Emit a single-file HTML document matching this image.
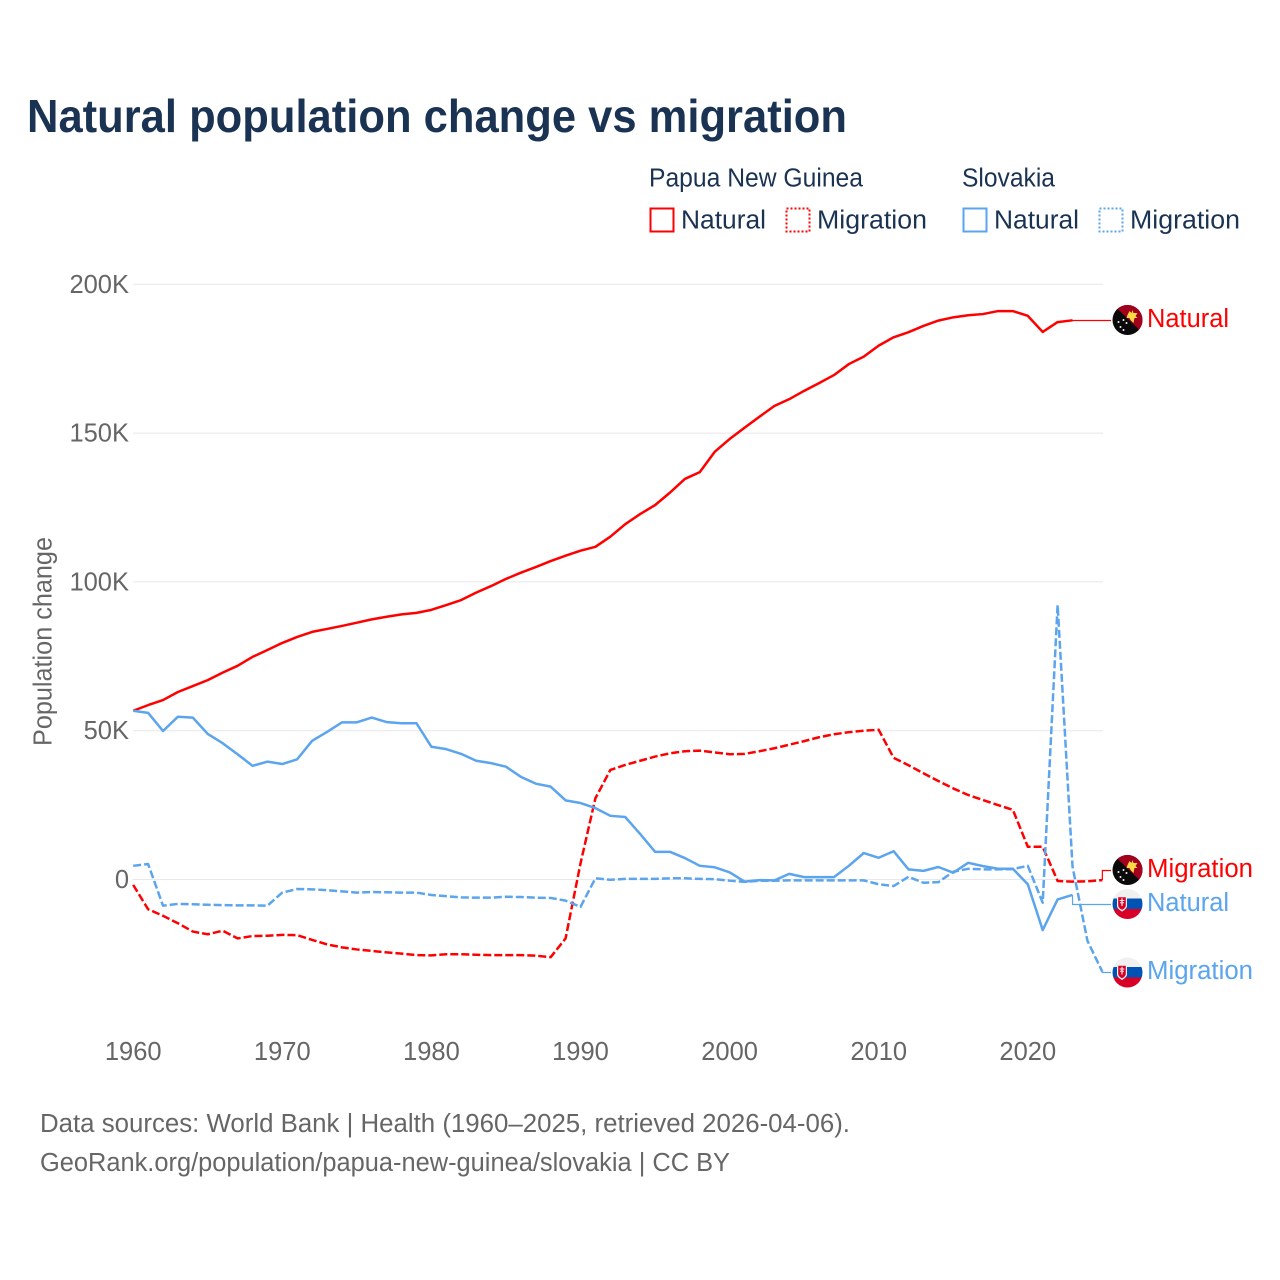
<!DOCTYPE html>
<html lang="en">
<head>
<meta charset="utf-8">
<title>Natural population change vs migration</title>
<style>
  html, body { margin: 0; padding: 0; background: #fff; }
  svg { display: block; font-family: "Liberation Sans", Arial, sans-serif; }
</style>
</head>
<body>
<svg id="chart" xmlns="http://www.w3.org/2000/svg" width="1280" height="1280" viewBox="0 0 1280 1280">
  <defs>
    <clipPath id="flag-clip"><circle cx="0" cy="0" r="15"></circle></clipPath>
  </defs>
  <rect x="0" y="0" width="1280" height="1280" fill="#ffffff"></rect>

  <text x="27" y="132" font-size="46.5" font-weight="700" fill="#1a3353" textLength="820" lengthAdjust="spacingAndGlyphs">Natural population change vs migration</text>

  <g>
    <text x="649" y="186.5" font-size="25.5" fill="#1a3353" textLength="214" lengthAdjust="spacingAndGlyphs">Papua New Guinea</text>
    <text x="962" y="186.5" font-size="25.5" fill="#1a3353" textLength="93" lengthAdjust="spacingAndGlyphs">Slovakia</text>

    <rect x="650.5" y="208.5" width="23" height="23" fill="none" stroke="#ff0000" stroke-width="2"></rect>
    <text x="681" y="228.5" font-size="25.5" fill="#1a3353" textLength="85" lengthAdjust="spacingAndGlyphs">Natural</text>
    <rect x="786.5" y="208.5" width="23" height="23" fill="none" stroke="#ff0000" stroke-width="2" stroke-dasharray="2 2"></rect>
    <text x="817" y="228.5" font-size="25.5" fill="#1a3353" textLength="110" lengthAdjust="spacingAndGlyphs">Migration</text>

    <rect x="963.5" y="208.5" width="23" height="23" fill="none" stroke="#5ba4ee" stroke-width="2"></rect>
    <text x="994" y="228.5" font-size="25.5" fill="#1a3353" textLength="85" lengthAdjust="spacingAndGlyphs">Natural</text>
    <rect x="1099.5" y="208.5" width="23" height="23" fill="none" stroke="#5ba4ee" stroke-width="2" stroke-dasharray="2 2"></rect>
    <text x="1130" y="228.5" font-size="25.5" fill="#1a3353" textLength="110" lengthAdjust="spacingAndGlyphs">Migration</text>
  </g>

  <g id="grid"></g>
  <g id="y-axis"></g>
  <g id="x-axis"></g>
  <text transform="translate(51.5,641.5) rotate(-90)" text-anchor="middle" font-size="25.5" fill="#666666" textLength="209" lengthAdjust="spacingAndGlyphs">Population change</text>

  <g id="series"></g>
  <g id="connectors"></g>

  <g transform="translate(1127.5,320)">
    <g clip-path="url(#flag-clip)">
      <rect x="-16" y="-16" width="32" height="32" fill="#0a0a0a"></rect>
      <polygon points="-15,-16 16,-16 16,14" fill="#a2001d"></polygon>
      <polygon points="0,-5 2,-9 4,-7 5,-10 6,-7 10,-7 8,-4 10,-2 7,-2 6,3 3,0 2,-2 -1,-2" fill="#ffda44"></polygon>
      <circle cx="-9" cy="2" r="1" fill="#f0f0f0"></circle>
      <circle cx="-4" cy="0" r="1" fill="#f0f0f0"></circle>
      <circle cx="-1" cy="3" r="1" fill="#f0f0f0"></circle>
      <circle cx="-7" cy="7" r="1" fill="#f0f0f0"></circle>
      <circle cx="-4" cy="10" r="1" fill="#f0f0f0"></circle>
    </g>
  </g>
  <g transform="translate(1127.5,870)">
    <g clip-path="url(#flag-clip)">
      <rect x="-16" y="-16" width="32" height="32" fill="#0a0a0a"></rect>
      <polygon points="-15,-16 16,-16 16,14" fill="#a2001d"></polygon>
      <polygon points="0,-5 2,-9 4,-7 5,-10 6,-7 10,-7 8,-4 10,-2 7,-2 6,3 3,0 2,-2 -1,-2" fill="#ffda44"></polygon>
      <circle cx="-9" cy="2" r="1" fill="#f0f0f0"></circle>
      <circle cx="-4" cy="0" r="1" fill="#f0f0f0"></circle>
      <circle cx="-1" cy="3" r="1" fill="#f0f0f0"></circle>
      <circle cx="-7" cy="7" r="1" fill="#f0f0f0"></circle>
      <circle cx="-4" cy="10" r="1" fill="#f0f0f0"></circle>
    </g>
  </g>
  <g transform="translate(1127.5,904)">
    <g clip-path="url(#flag-clip)">
      <rect x="-16" y="-16" width="32" height="10.5" fill="#f0f0f0"></rect>
      <rect x="-16" y="-5.5" width="32" height="10.5" fill="#0052b4"></rect>
      <rect x="-16" y="5" width="32" height="11" fill="#d80027"></rect>
      <path d="M-10.5,-8 H-0.5 V2 C-0.5,5 -5.5,7.5 -5.5,7.5 C-5.5,7.5 -10.5,5 -10.5,2 Z" fill="#f0f0f0"></path>
      <path d="M-9.3,-6.8 H-1.7 V1.5 C-1.7,4 -5.5,5.8 -5.5,5.8 C-5.5,5.8 -9.3,4 -9.3,1.5 Z" fill="#d80027"></path>
      <path d="M-6.1,-5.8 H-4.9 V-4 H-3.2 V-3 H-4.9 V-1.7 H-3.6 V-0.7 H-4.9 V2 H-6.1 V-0.7 H-7.4 V-1.7 H-6.1 V-3 H-7.8 V-4 H-6.1 Z" fill="#f0f0f0"></path>
    </g>
  </g>
  <g transform="translate(1127.5,972.5)">
    <g clip-path="url(#flag-clip)">
      <rect x="-16" y="-16" width="32" height="10.5" fill="#f0f0f0"></rect>
      <rect x="-16" y="-5.5" width="32" height="10.5" fill="#0052b4"></rect>
      <rect x="-16" y="5" width="32" height="11" fill="#d80027"></rect>
      <path d="M-10.5,-8 H-0.5 V2 C-0.5,5 -5.5,7.5 -5.5,7.5 C-5.5,7.5 -10.5,5 -10.5,2 Z" fill="#f0f0f0"></path>
      <path d="M-9.3,-6.8 H-1.7 V1.5 C-1.7,4 -5.5,5.8 -5.5,5.8 C-5.5,5.8 -9.3,4 -9.3,1.5 Z" fill="#d80027"></path>
      <path d="M-6.1,-5.8 H-4.9 V-4 H-3.2 V-3 H-4.9 V-1.7 H-3.6 V-0.7 H-4.9 V2 H-6.1 V-0.7 H-7.4 V-1.7 H-6.1 V-3 H-7.8 V-4 H-6.1 Z" fill="#f0f0f0"></path>
    </g>
  </g>

  <text x="1147" y="327" font-size="25.5" fill="#ff0000" textLength="82" lengthAdjust="spacingAndGlyphs">Natural</text>
  <text x="1147" y="877" font-size="25.5" fill="#ff0000" textLength="106" lengthAdjust="spacingAndGlyphs">Migration</text>
  <text x="1147" y="911" font-size="25.5" fill="#5ba4ee" textLength="82" lengthAdjust="spacingAndGlyphs">Natural</text>
  <text x="1147" y="979" font-size="25.5" fill="#5ba4ee" textLength="106" lengthAdjust="spacingAndGlyphs">Migration</text>

  <text x="40" y="1132" font-size="25.5" fill="#666666" textLength="810" lengthAdjust="spacingAndGlyphs">Data sources: World Bank | Health (1960–2025, retrieved 2026-04-06).</text>
  <text x="40" y="1171" font-size="25.5" fill="#666666" textLength="690" lengthAdjust="spacingAndGlyphs">GeoRank.org/population/papua-new-guinea/slovakia | CC BY</text>
</svg>

<script>
const years = [1960,1961,1962,1963,1964,1965,1966,1967,1968,1969,1970,1971,1972,1973,1974,1975,1976,1977,1978,1979,1980,1981,1982,1983,1984,1985,1986,1987,1988,1989,1990,1991,1992,1993,1994,1995,1996,1997,1998,1999,2000,2001,2002,2003,2004,2005,2006,2007,2008,2009,2010,2011,2012,2013,2014,2015,2016,2017,2018,2019,2020,2021,2022,2023,2024,2025];

// Values in thousands of people per year
const pngNatural = [56.7,58.6,60.3,63.0,65.0,67.0,69.5,71.8,74.8,77.1,79.5,81.5,83.2,84.2,85.2,86.3,87.4,88.3,89.1,89.6,90.6,92.2,93.9,96.4,98.6,101.0,103.1,105.0,107.0,108.8,110.5,111.8,115.2,119.4,122.8,125.8,130.0,134.6,136.9,143.7,148.0,151.8,155.5,159.1,161.4,164.2,166.8,169.5,173.2,175.7,179.4,182.2,183.9,186.0,187.8,188.9,189.6,190.0,191.0,191.0,189.4,184.0,187.3,187.9];
const pngMigration = [-1.8,-10.0,-12.2,-14.7,-17.5,-18.4,-17.2,-19.8,-19.0,-18.9,-18.6,-18.7,-20.3,-21.8,-22.8,-23.5,-24.0,-24.5,-24.9,-25.4,-25.5,-25.1,-25.1,-25.3,-25.4,-25.4,-25.4,-25.6,-26.1,-19.8,5.4,27.3,36.8,38.5,39.9,41.3,42.4,43.1,43.3,42.7,42.1,42.2,43.1,44.1,45.3,46.5,47.8,48.8,49.5,50.0,50.3,40.9,38.4,35.7,33.1,30.6,28.4,26.7,25.0,23.4,11.0,11.0,-0.5,-0.7,-0.6,-0.2];
const skNatural = [56.7,56.0,49.9,54.7,54.4,48.9,45.8,42.1,38.2,39.6,38.8,40.4,46.6,49.6,52.8,52.8,54.4,52.9,52.5,52.5,44.6,43.8,42.2,39.9,39.1,37.9,34.5,32.2,31.2,26.6,25.7,24.0,21.4,21.0,15.3,9.3,9.3,7.2,4.6,4.1,2.4,-0.7,-0.2,-0.3,1.9,0.8,0.8,0.8,4.6,8.9,7.3,9.5,3.4,2.9,4.2,2.3,5.6,4.5,3.6,3.6,-1.6,-17.0,-6.7,-5.2];
const skMigration = [4.6,5.2,-8.8,-8.2,-8.3,-8.5,-8.6,-8.7,-8.7,-8.8,-4.4,-3.2,-3.3,-3.6,-4.0,-4.4,-4.2,-4.3,-4.4,-4.4,-5.2,-5.6,-6.0,-6.1,-6.1,-5.8,-5.9,-6.1,-6.2,-7.1,-9.2,0.4,-0.1,0.2,0.2,0.2,0.4,0.4,0.2,0.1,-0.4,-0.8,-0.4,-0.4,-0.3,-0.3,-0.3,-0.3,-0.3,-0.3,-1.6,-2.2,0.9,-1.1,-0.9,2.6,3.6,3.4,3.4,3.5,4.6,-7.8,92.2,4.3,-20.6,-31.0];

const yTickValues = [0, 50, 100, 150, 200];
const yTickLabels = ["0", "50K", "100K", "150K", "200K"];
const xTickYears = [1960, 1970, 1980, 1990, 2000, 2010, 2020];

const NS = "http://www.w3.org/2000/svg";
const x = function (year) { return 133.2 + (year - 1960) * 14.91; };
const y = function (k) { return 879.5 - k * 2.976; };

const gridGroup = document.getElementById("grid");
const yAxisGroup = document.getElementById("y-axis");
const xAxisGroup = document.getElementById("x-axis");
const seriesGroup = document.getElementById("series");
const connectorGroup = document.getElementById("connectors");

yTickValues.forEach(function (value, i) {
  const line = document.createElementNS(NS, "line");
  
  
  line.setAttribute("x1", 133);
  line.setAttribute("x2", 1103);
  line.setAttribute("y1", y(value));
  line.setAttribute("y2", y(value));
  line.setAttribute("stroke", "#e8e8e8");
  line.setAttribute("stroke-width", 1);
  gridGroup.appendChild(line);

  const label = document.createElementNS(NS, "text");
  
  
  label.setAttribute("x", 129);
  label.setAttribute("y", y(value) + 8.5);
  label.setAttribute("text-anchor", "end");
  label.setAttribute("font-size", 25.5);
  label.setAttribute("fill", "#666666");
  label.textContent = yTickLabels[i];
  yAxisGroup.appendChild(label);
});

xTickYears.forEach(function (year) {
  const label = document.createElementNS(NS, "text");
  
  
  label.setAttribute("x", x(year));
  label.setAttribute("y", 1060);
  label.setAttribute("text-anchor", "middle");
  label.setAttribute("font-size", 25.5);
  label.setAttribute("fill", "#666666");
  label.textContent = String(year);
  xAxisGroup.appendChild(label);
});

function drawSeries(values, color, dashed, seriesName, markerY) {
  const d = values.map(function (v, i) {
    return (i ? "L" : "M") + x(years[i]).toFixed(2) + " " + y(v).toFixed(2);
  }).join(" ");
  const path = document.createElementNS(NS, "path");
  
  
  path.setAttribute("d", d);
  path.setAttribute("fill", "none");
  path.setAttribute("stroke", color);
  path.setAttribute("stroke-width", 2.5);
  path.setAttribute("stroke-linejoin", "round");
  if (dashed) path.setAttribute("stroke-dasharray", "8 3");
  seriesGroup.appendChild(path);

  const last = values.length - 1;
  const connector = document.createElementNS(NS, "path");
  
  
  connector.setAttribute("d", "M" + x(years[last]).toFixed(2) + " " + y(values[last]).toFixed(2) + " V" + markerY + " H1111");
  connector.setAttribute("fill", "none");
  connector.setAttribute("stroke", color);
  connector.setAttribute("stroke-width", 1.2);
  connectorGroup.appendChild(connector);
}

drawSeries(pngNatural, "#ff0000", false, "line-png-natural", 320.5);
drawSeries(pngMigration, "#ff0000", true, "line-png-migration", 870.5);
drawSeries(skNatural, "#5ba4ee", false, "line-slovakia-natural", 904.5);
drawSeries(skMigration, "#5ba4ee", true, "line-slovakia-migration", 972.5);
</script>
</body>
</html>
